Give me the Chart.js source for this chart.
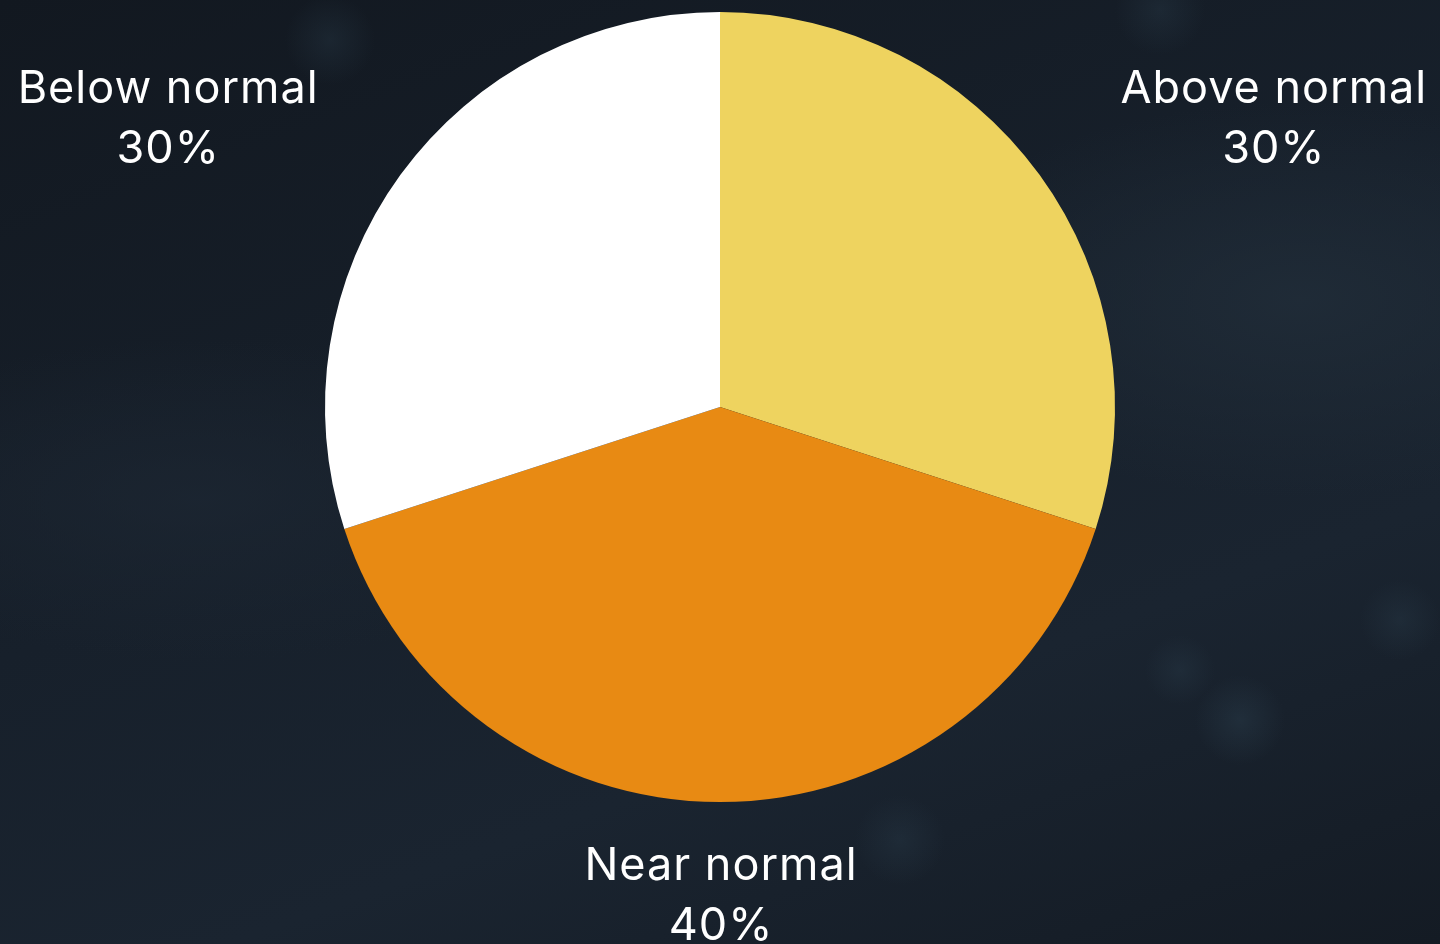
<!DOCTYPE html>
<html>
<head>
<meta charset="utf-8">
<script src="https://cdn.jsdelivr.net/npm/chart.js@4.4.1/dist/chart.umd.min.js"></script>
<style>
  html, body { margin: 0; padding: 0; width: 1440px; height: 944px; overflow: hidden; }
  body {
    background:
      radial-gradient(circle at 1240px 720px, rgba(45,65,80,0.4) 0, rgba(45,65,80,0) 45px),
      radial-gradient(circle at 1400px 620px, rgba(45,65,80,0.3) 0, rgba(45,65,80,0) 40px),
      radial-gradient(circle at 1180px 670px, rgba(45,65,80,0.3) 0, rgba(45,65,80,0) 35px),
      radial-gradient(circle at 900px 840px, rgba(45,65,80,0.3) 0, rgba(45,65,80,0) 45px),
      radial-gradient(circle at 330px 40px, rgba(45,65,80,0.3) 0, rgba(45,65,80,0) 45px),
      radial-gradient(circle at 1160px 10px, rgba(45,65,80,0.3) 0, rgba(45,65,80,0) 45px),
      radial-gradient(ellipse at 1300px 300px, rgba(32,44,56,0.9) 0, rgba(32,44,56,0) 400px),
      radial-gradient(ellipse at 200px 500px, rgba(28,38,50,0.8) 0, rgba(28,38,50,0) 400px),
      linear-gradient(160deg, #121820 0%, #17202b 45%, #1a2430 70%, #141b24 100%);
  }
  #wrap { position: absolute; left: 0; top: 0; width: 1440px; height: 944px; }
</style>
</head>
<body>
<div id="wrap"><canvas id="outlookChart"></canvas></div>
<script>
var categories = ['Above normal', 'Near normal', 'Below normal'];
var shares = [30, 40, 30];
var sliceColors = ['#EED35F', '#E88A13', '#FFFFFF'];

// draws the two-line labels round the pie
var outsideLabels = {
    id: 'outsideLabels',
    afterDatasetsDraw: function (chart) {
        var ctx = chart.ctx;
        var arcs = chart.getDatasetMeta(0).data;
        ctx.save();
        ctx.fillStyle = '#ffffff';
        ctx.font = '400 45px Inter, sans-serif';
        ctx.letterSpacing = '1px';
        ctx.textAlign = 'center';
        ctx.textBaseline = 'middle';
        arcs.forEach(function (arc, i) {
            var mid = (arc.startAngle + arc.endAngle) / 2;
            var r = arc.outerRadius;
            var x = arc.x + Math.cos(mid) * r * 1.73 + 1;
            var y = arc.y + Math.sin(mid) * r * 1.24;
            ctx.fillText(categories[i], x, y - 30);
            ctx.fillText(shares[i] + '%', x, y + 30);
        });
        ctx.restore();
    }
};

var chart = new Chart(document.getElementById('outlookChart').getContext('2d'), {
    type: 'pie',
    data: {
        labels: categories,
        datasets: [{
            data: shares,
            backgroundColor: sliceColors,
            borderWidth: 0
        }]
    },
    options: {
        responsive: true,
        maintainAspectRatio: false,
        animation: false,
        layout: { padding: { top: 12, bottom: 142 } },
        plugins: {
            legend: { display: false },
            tooltip: { enabled: false }
        }
    },
    plugins: [outsideLabels]
});
</script>
</body>
</html>
